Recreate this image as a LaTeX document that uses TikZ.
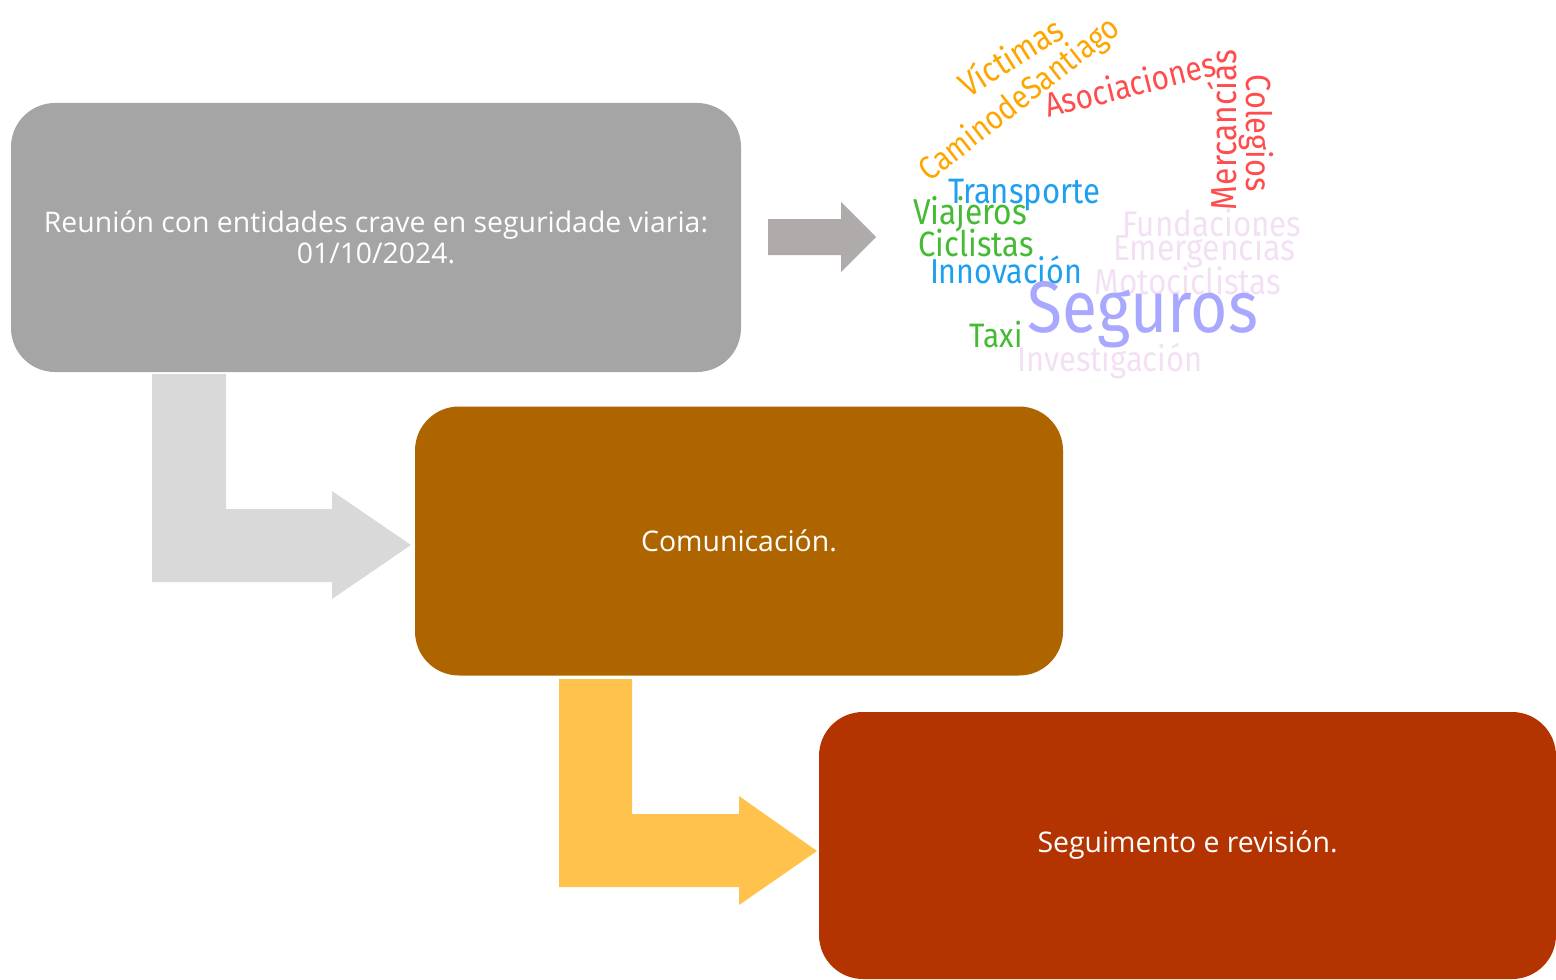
\documentclass[tikz,border=0pt]{standalone}
\usepackage{fontspec}
\usepackage{graphicx}
\setmainfont{Open Sans}
\newfontfamily\cloudfont[FakeStretch=0.88]{Fira Sans}
\definecolor{boxgrey}{HTML}{A5A5A5}
\definecolor{boxbrown}{HTML}{AE6500}
\definecolor{boxred}{HTML}{B33400}
\definecolor{arrgrey}{HTML}{D9D9D9}
\definecolor{arryellow}{HTML}{FFC24C}
\definecolor{arrright}{HTML}{AFABAB}
\definecolor{wcorange}{HTML}{FFA500}
\definecolor{wcred}{HTML}{FF4C4C}
\definecolor{wcblue}{HTML}{1E9FF0}
\definecolor{wcgreen}{HTML}{44BB33}
\definecolor{wclav}{HTML}{F3E0F5}
\definecolor{wcperi}{HTML}{A8A8FF}
\tikzset{
  stagebox/.style={rectangle, rounded corners=22pt, inner sep=0pt, text=white,
    font=\fontsize{14.2}{15.8}\selectfont, align=center, minimum height=134.5pt},
  wc/.style={inner sep=0pt, font=\cloudfont}
}
\begin{document}
\begin{tikzpicture}[x=0.5pt,y=-0.5pt]
\useasboundingbox (0,0) rectangle (1556,979);
% block arrows
\fill[arrgrey] (152,374) -- (226,374) -- (226,509) -- (332,509) -- (332,491) -- (411,545) -- (332,599) -- (332,582) -- (152,582) -- cycle;
\fill[arryellow] (559,679) -- (632,679) -- (632,814) -- (739,814) -- (739,796) -- (817,851) -- (739,905) -- (739,887) -- (559,887) -- cycle;
\fill[arrright] (768,219) -- (841,219) -- (841,202) -- (876,237) -- (841,272) -- (841,255) -- (768,255) -- cycle;
% boxes
\node[stagebox, fill=boxgrey, minimum width=365pt] (b1) at (376,237.5) {Reunión con entidades crave en seguridade viaria:\\01/10/2024.};
\node[stagebox, fill=boxbrown, minimum width=324pt] (b2) at (739,541) {Comunicación.};
\node[stagebox, fill=boxred, minimum width=368.5pt, minimum height=133.5pt] (b3) at (1187.5,845.5) {Seguimento e revisión.};
% word cloud
\node[wc, text=wcorange, rotate=32] (w1) at (1010,56) {\resizebox{58pt}{!}{Víctimas}};
\node[wc, text=wcorange, rotate=38] (w2) at (1020,100) {\resizebox{122pt}{!}{CaminodeSantiago}};
\node[wc, text=wcred, rotate=14] (w3) at (1130,84) {\resizebox{87.5pt}{!}{Asociaciones}};
\node[wc, text=wcred, rotate=90] (w4) at (1222,130) {\resizebox{80pt}{!}{Mercancías}};
\node[wc, text=wcred, rotate=-90] (w5) at (1256,133) {\resizebox{58.5pt}{!}{Colegios}};
\node[wc, text=wcblue] (w6) at (1024,195) {\resizebox{76pt}{!}{Transporte}};
\node[wc, text=wcgreen] (w7) at (970,214) {\resizebox{57pt}{!}{Viajeros}};
\node[wc, text=wcgreen] (w8) at (976,243) {\resizebox{57.5pt}{!}{Ciclistas}};
\node[wc, text=wcblue] (w9) at (1006,270) {\resizebox{76pt}{!}{Innovación}};
\node[wc, text=wclav] (w10) at (1212,223) {\resizebox{89.5pt}{!}{Fundaciones}};
\node[wc, text=wclav] (w11) at (1204,250) {\resizebox{91pt}{!}{Emergencias}};
\node[wc, text=wclav] (w12) at (1188,281) {\resizebox{93.5pt}{!}{Motociclistas}};
\node[wc, text=wclav] (w13) at (1110,361) {\resizebox{92.5pt}{!}{Investigación}};
\node[wc, text=wcperi] (w14) at (1143,315) {\resizebox{115pt}{!}{Seguros}};
\node[wc, text=wcgreen] (w15) at (996,334) {\resizebox{26.5pt}{!}{Taxi}};
\end{tikzpicture}
\end{document}
